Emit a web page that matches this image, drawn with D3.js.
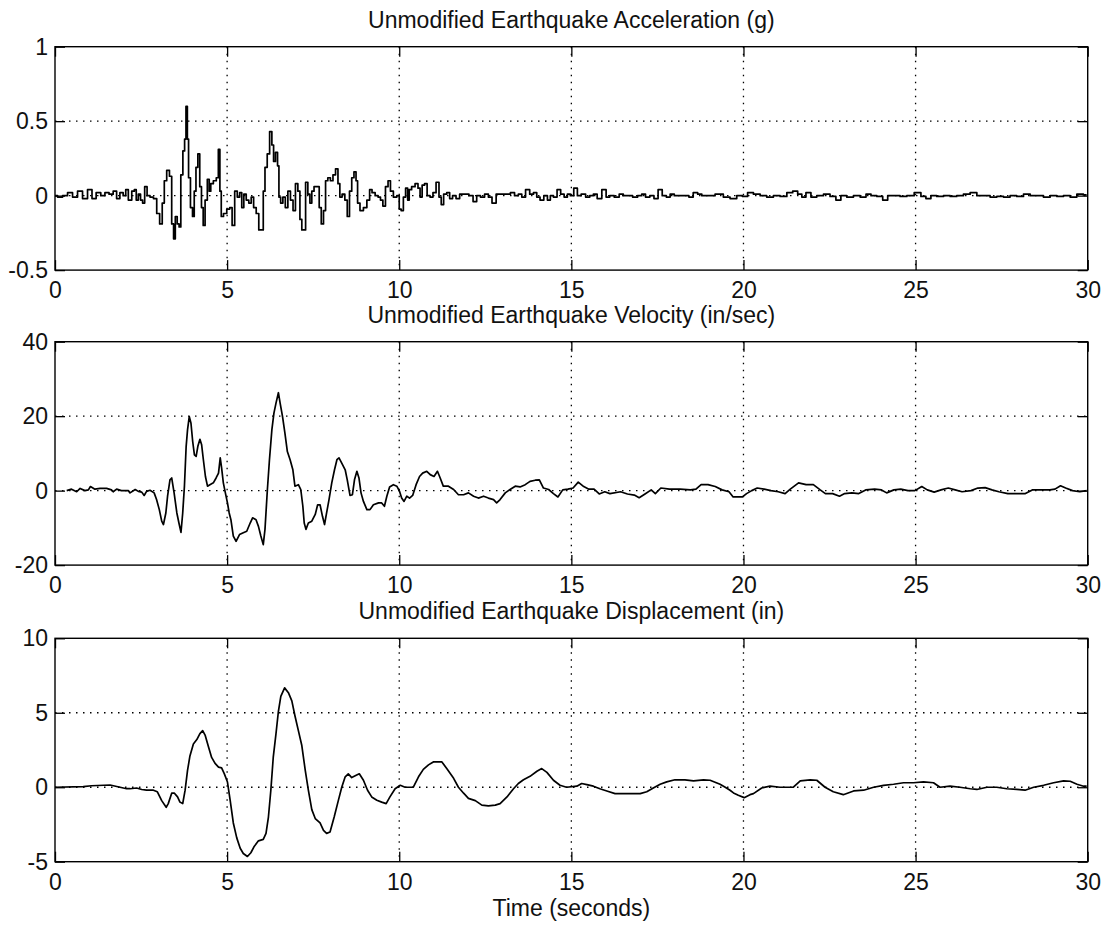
<!DOCTYPE html>
<html><head><meta charset="utf-8">
<script src="https://cdn.jsdelivr.net/npm/d3@7"></script>
<style>
body{margin:0;background:#fff;}
text{font-family:"Liberation Sans",Arial,Helvetica,sans-serif;fill:#111;}
</style></head><body>
<svg id="chart" width="1109" height="928"></svg>
<script>
// ---------- data ----------
const xTicks = [0, 5, 10, 15, 20, 25, 30];
const accTicks = [-0.5, 0, 0.5, 1];
const velTicks = [-20, 0, 20, 40];
const dispTicks = [-5, 0, 5, 10];
const panelTitles = ["Unmodified Earthquake Acceleration (g)", "Unmodified Earthquake Velocity (in/sec)", "Unmodified Earthquake Displacement (in)"];
const xLabel = "Time (seconds)";

// [time (s), acceleration (g)]
const accelerationData = [
[0,0],[0.15,-0.01],[0.29,0],[0.44,0.02],[0.58,-0.01],[0.73,0.03],[0.87,-0.02],[1.02,0.04],[1.13,-0.02],[1.26,0.02],
[1.40,0],[1.50,0.02],[1.64,0.01],[1.74,0.03],[1.84,-0.02],[1.93,0.02],[2.03,0],[2.08,0.04],[2.18,-0.03],[2.28,0.03],
[2.33,0.04],[2.39,-0.03],[2.45,0.01],[2.52,-0.03],[2.57,-0.05],[2.64,0.06],[2.71,0],[2.81,-0.01],[2.91,-0.02],[3.00,-0.12],
[3.08,-0.19],[3.15,-0.05],[3.20,0.10],[3.29,0.17],[3.36,0.13],[3.42,-0.19],[3.47,-0.29],[3.52,-0.14],[3.58,-0.19],[3.63,-0.21],
[3.68,0.14],[3.75,0.30],[3.78,0.38],[3.83,0.60],[3.86,0.38],[3.90,0.12],[3.97,-0.08],[4.02,-0.14],[4.07,0.03],[4.12,0.19],
[4.18,0.28],[4.23,0.06],[4.28,-0.08],[4.33,-0.20],[4.39,-0.03],[4.46,0.11],[4.50,0.03],[4.55,0.08],[4.65,0.10],[4.72,0.12],
[4.77,0.31],[4.81,0.03],[4.85,-0.14],[4.94,-0.12],[5.04,-0.09],[5.11,-0.08],[5.18,-0.20],[5.26,0.03],[5.33,-0.01],[5.40,0.02],
[5.45,-0.08],[5.52,0.01],[5.59,-0.03],[5.67,-0.05],[5.73,-0.01],[5.81,-0.08],[5.88,-0.12],[5.96,-0.23],[6.03,-0.23],[6.07,0.03],
[6.13,0.19],[6.20,0.28],[6.27,0.43],[6.33,0.34],[6.37,0.23],[6.44,0.29],[6.49,0.20],[6.52,-0.01],[6.59,-0.05],[6.65,-0.01],
[6.73,-0.08],[6.80,0.03],[6.88,-0.03],[6.95,-0.10],[7.02,0.08],[7.09,0.03],[7.14,-0.16],[7.20,-0.23],[7.25,-0.23],[7.31,0.09],
[7.38,0.01],[7.43,-0.05],[7.49,0.03],[7.56,0.06],[7.65,0.06],[7.70,-0.08],[7.77,-0.19],[7.83,-0.10],[7.89,0.10],[7.96,0.12],
[8.04,0.10],[8.11,0.14],[8.19,0.18],[8.25,0.08],[8.30,-0.01],[8.38,0.01],[8.46,-0.03],[8.52,-0.14],[8.59,0.03],[8.65,0.12],
[8.72,0.16],[8.77,0.10],[8.81,-0.05],[8.91,-0.10],[9.01,-0.08],[9.11,-0.03],[9.17,0.04],[9.25,0.02],[9.35,0],[9.42,-0.01],
[9.49,-0.03],[9.56,-0.07],[9.64,0.06],[9.71,0.10],[9.78,0.03],[9.88,-0.01],[9.98,0],[10.02,-0.09],[10.09,-0.10],[10.15,-0.01],
[10.22,0.05],[10.27,-0.03],[10.31,0.04],[10.41,0.06],[10.51,0.08],[10.58,0.05],[10.63,-0.01],[10.70,0.07],[10.77,0.08],[10.85,0],
[10.94,-0.01],[11.02,0.02],[11.12,0.09],[11.19,-0.01],[11.25,-0.06],[11.33,0.01],[11.43,0.02],[11.50,-0.02],[11.60,0],[11.70,-0.02],
[11.81,0.01],[11.96,0.01],[12.09,0],[12.20,-0.04],[12.30,0],[12.42,-0.01],[12.54,0.01],[12.64,-0.01],[12.75,-0.05],[12.88,0.01],
[13.03,0.01],[13.17,0.01],[13.29,0.02],[13.41,0],[13.51,0.01],[13.61,-0.01],[13.73,0.04],[13.85,0.01],[13.95,0.02],[14.04,-0.01],
[14.14,-0.03],[14.26,0],[14.35,-0.03],[14.43,0],[14.53,-0.01],[14.64,0.04],[14.74,0.01],[14.84,-0.01],[14.93,0.01],[15.01,0],
[15.13,0.05],[15.22,0],[15.35,0.01],[15.48,-0.01],[15.59,0],[15.69,0.01],[15.81,-0.02],[15.96,0.04],[16.06,-0.01],[16.17,0],
[16.32,-0.01],[16.46,0.01],[16.56,0],[16.71,0],[16.85,-0.01],[17.00,0],[17.09,0.01],[17.22,-0.01],[17.34,0],[17.46,-0.02],
[17.58,0.04],[17.70,0],[17.82,-0.01],[17.92,0.01],[18.06,0],[18.21,0],[18.35,0],[18.48,-0.01],[18.60,0.02],[18.74,0.01],
[18.84,0],[19.03,0],[19.32,0.01],[19.51,-0.01],[19.71,-0.02],[19.90,0],[20.05,-0.005],[20.19,0.02],[20.39,0.01],[20.58,0],
[20.77,-0.01],[20.97,0],[21.16,-0.005],[21.36,0.02],[21.50,0.03],[21.65,0.01],[21.74,-0.01],[21.89,0.02],[22.03,-0.01],[22.23,0],
[22.42,0.01],[22.61,-0.005],[22.76,-0.03],[22.90,0],[23.10,-0.01],[23.29,0],[23.49,-0.01],[23.63,0.01],[23.78,0],[23.97,-0.005],
[24.12,-0.03],[24.26,0],[24.45,0],[24.65,-0.005],[24.84,0],[25.08,0.02],[25.23,-0.005],[25.37,-0.02],[25.52,0],[25.71,-0.005],
[25.91,0],[26.10,-0.005],[26.29,0],[26.49,0.01],[26.68,0.02],[26.88,0],[27.07,0],[27.26,-0.01],[27.46,-0.005],[27.65,-0.01],
[27.84,0],[28.04,-0.005],[28.23,0.01],[28.43,0],[28.62,0],[28.81,-0.01],[29.01,0],[29.20,-0.005],[29.39,0],[29.59,-0.01],
[29.78,0.01],[29.97,0.005]
];

// [time (s), velocity (in/sec)]
const velocityData = [
[0.34,0],[0.48,0.4],[0.63,-0.3],[0.73,0.6],[0.87,0],[0.97,0.2],[1.03,1.1],[1.16,0.4],[1.31,0.6],[1.50,0.6],
[1.64,0.2],[1.69,-0.3],[1.79,0.4],[1.93,0],[2.13,0],[2.18,-0.6],[2.33,0.3],[2.42,-0.2],[2.52,-0.4],[2.59,-1.3],
[2.66,-0.2],[2.76,0.1],[2.88,-0.6],[2.95,-2.4],[3.03,-5.1],[3.10,-8.2],[3.15,-9.1],[3.22,-6.0],[3.27,-1.5],[3.34,2.9],
[3.39,3.4],[3.46,-0.6],[3.54,-6.0],[3.60,-8.7],[3.66,-11.2],[3.71,-6.0],[3.76,1.2],[3.81,11.9],[3.85,16.3],[3.90,19.9],
[3.95,18.1],[4.00,13.2],[4.05,9.6],[4.10,9.2],[4.15,11.9],[4.21,13.8],[4.26,12.3],[4.31,8.3],[4.37,3.8],[4.43,1.2],
[4.50,1.6],[4.60,2.1],[4.68,3.4],[4.75,4.7],[4.80,8.8],[4.84,6.1],[4.89,2.1],[4.94,-0.2],[5.01,-3.3],[5.06,-6.0],
[5.11,-7.8],[5.18,-12.2],[5.26,-13.6],[5.36,-11.8],[5.47,-11.3],[5.57,-10.9],[5.67,-8.7],[5.74,-7.3],[5.84,-7.8],[5.91,-9.6],
[5.98,-12.2],[6.05,-14.5],[6.10,-10.4],[6.17,0.3],[6.23,8.3],[6.30,16.3],[6.36,20.8],[6.42,23.5],[6.49,26.3],[6.54,23.5],
[6.61,19.9],[6.68,15.4],[6.75,10.5],[6.83,8.3],[6.91,5.6],[6.97,1.2],[7.07,1.6],[7.14,0.3],[7.20,-4.2],[7.24,-8.7],
[7.29,-10.4],[7.36,-8.7],[7.46,-8.2],[7.56,-6.4],[7.63,-3.8],[7.70,-3.8],[7.77,-6.9],[7.83,-9.1],[7.89,-6.0],[7.96,-2.4],
[8.04,2.1],[8.12,5.6],[8.19,8.3],[8.25,8.8],[8.33,7.4],[8.43,5.6],[8.49,2.9],[8.57,-1.3],[8.64,-1.1],[8.70,2.9],
[8.77,5.2],[8.83,3.4],[8.89,-0.6],[8.96,-2.9],[9.06,-5.1],[9.15,-5.1],[9.25,-3.8],[9.40,-3.3],[9.49,-3.3],[9.57,-4.2],
[9.64,-1.5],[9.72,1.0],[9.83,1.6],[9.93,1.2],[10.01,-0.2],[10.07,-2.0],[10.14,-2.9],[10.22,-1.5],[10.30,-2.0],[10.39,-1.3],
[10.49,1.6],[10.59,3.8],[10.68,4.7],[10.80,5.2],[10.90,4.3],[11.01,3.8],[11.11,5.2],[11.19,3.4],[11.28,1.2],[11.43,1.2],
[11.58,0.3],[11.72,-1.1],[11.87,-1.1],[12.01,-0.6],[12.16,-1.5],[12.30,-2.0],[12.45,-1.5],[12.59,-2.0],[12.74,-2.4],[12.83,-3.3],
[12.93,-2.4],[13.08,-0.6],[13.22,0.3],[13.37,1.2],[13.51,1.0],[13.66,1.6],[13.80,2.5],[13.95,2.8],[14.07,2.9],[14.19,0.7],
[14.34,0.3],[14.48,-0.8],[14.61,-1.7],[14.75,0.2],[14.90,0.4],[15.05,0.7],[15.20,2.3],[15.36,1.1],[15.51,0.4],[15.66,0.4],
[15.81,-0.9],[15.97,-0.3],[16.12,-0.8],[16.43,-0.3],[16.63,-0.9],[16.83,-1.2],[16.97,-1.9],[17.14,-0.9],[17.32,0.2],[17.44,-0.8],
[17.60,0.7],[17.85,0.4],[18.16,0.4],[18.46,0.2],[18.62,0.4],[18.77,1.6],[18.97,1.6],[19.18,1.1],[19.38,0.2],[19.58,-0.3],
[19.70,-1.7],[19.97,-1.7],[20.09,-0.8],[20.24,0],[20.40,0.7],[20.60,0.4],[20.80,0],[21.01,-0.3],[21.21,-0.8],[21.36,0.4],
[21.60,2.1],[21.82,1.6],[22.03,1.6],[22.23,0.2],[22.38,-0.8],[22.59,-0.8],[22.79,-1.5],[22.94,-0.8],[23.15,-0.6],[23.35,-0.8],
[23.55,0.2],[23.81,0.4],[24.01,0.2],[24.16,-0.6],[24.37,0.2],[24.57,0.4],[24.78,0],[24.98,0],[25.18,1.1],[25.34,0.2],
[25.54,-0.4],[25.74,0.2],[25.95,0.7],[26.15,0.2],[26.35,-0.3],[26.61,0],[26.81,0.7],[27.02,0.8],[27.22,0.2],[27.42,-0.3],
[27.68,-0.8],[27.93,-0.8],[28.19,-0.8],[28.39,0.2],[28.65,0.2],[28.90,0.2],[29.05,0.4],[29.21,1.3],[29.36,0.7],[29.56,0],
[29.77,-0.3],[29.97,0]
];

// [time (s), displacement (in)]
const displacementData = [
[0,0],[0.82,0.04],[1.06,0.1],[1.60,0.15],[1.89,0],[2.08,-0.1],[2.18,-0.1],[2.37,-0.05],[2.52,-0.15],[2.66,-0.2],
[2.86,-0.2],[2.97,-0.3],[3.10,-0.9],[3.23,-1.35],[3.29,-1.1],[3.39,-0.4],[3.47,-0.4],[3.56,-0.65],[3.63,-1.0],[3.71,-1.1],
[3.78,-0.2],[3.85,1.13],[3.92,2.1],[4.02,2.9],[4.12,3.2],[4.21,3.6],[4.29,3.8],[4.36,3.5],[4.46,2.7],[4.55,2.0],
[4.65,1.6],[4.75,1.35],[4.84,1.3],[4.92,0.9],[5.01,0.35],[5.09,-0.9],[5.18,-2.4],[5.28,-3.4],[5.38,-4.1],[5.47,-4.45],
[5.59,-4.65],[5.69,-4.4],[5.78,-4.0],[5.91,-3.6],[6.05,-3.5],[6.13,-3.1],[6.20,-2.0],[6.27,-0.2],[6.34,2.0],[6.42,3.6],
[6.49,5.1],[6.56,6.1],[6.67,6.67],[6.78,6.35],[6.88,5.8],[6.97,4.8],[7.07,3.8],[7.17,2.8],[7.27,1.13],[7.36,-0.2],
[7.46,-1.5],[7.56,-2.1],[7.70,-2.4],[7.80,-2.9],[7.89,-3.1],[7.99,-3.0],[8.11,-2.0],[8.23,-0.9],[8.33,0],[8.43,0.7],
[8.52,0.9],[8.62,0.65],[8.75,0.8],[8.84,0.9],[8.96,0.47],[9.08,-0.2],[9.20,-0.65],[9.35,-0.87],[9.49,-1.0],[9.62,-1.1],
[9.73,-0.65],[9.88,-0.1],[10.03,0.13],[10.17,0],[10.41,0],[10.56,0.7],[10.70,1.2],[10.85,1.5],[10.99,1.7],[11.24,1.7],
[11.38,1.25],[11.58,0.6],[11.72,0],[11.87,-0.4],[12.01,-0.75],[12.21,-0.9],[12.40,-1.2],[12.59,-1.25],[12.79,-1.2],[12.93,-1.1],
[13.13,-0.65],[13.32,-0.1],[13.46,0.25],[13.61,0.5],[13.80,0.73],[14.00,1.07],[14.14,1.25],[14.29,1.0],[14.48,0.47],[14.67,0.13],
[14.86,0],[15.16,0.07],[15.30,0.25],[15.45,0.18],[15.64,0.07],[15.83,-0.1],[16.03,-0.25],[16.27,-0.43],[16.61,-0.43],[17.00,-0.43],
[17.19,-0.3],[17.38,-0.05],[17.58,0.2],[17.77,0.36],[18.01,0.5],[18.30,0.5],[18.55,0.43],[18.84,0.5],[19.03,0.47],[19.32,0.2],
[19.47,0],[19.61,-0.2],[19.71,-0.38],[19.85,-0.54],[20.02,-0.7],[20.19,-0.5],[20.29,-0.43],[20.53,-0.05],[20.77,0.07],[21.06,0],
[21.45,0],[21.65,0.43],[21.94,0.5],[22.13,0.47],[22.37,0],[22.61,-0.3],[22.90,-0.5],[23.20,-0.25],[23.49,-0.2],[23.78,0],
[24.07,0.13],[24.36,0.2],[24.65,0.3],[24.94,0.3],[25.23,0.36],[25.52,0.3],[25.71,0],[26.00,0.07],[26.29,0],[26.59,-0.1],
[26.78,-0.15],[27.07,0],[27.36,0],[27.65,-0.1],[27.94,-0.15],[28.18,-0.2],[28.43,0],[28.72,0.13],[29.01,0.3],[29.30,0.43],
[29.49,0.4],[29.69,0.2],[29.88,0.07],[29.97,0.07]
];

// ---------- drawing ----------
const svg = d3.select("#chart");
const left = 55, right = 1087.7, plotH = 223.4;
const panelTops = [46.7, 341.7, 638.3];
const panels = [
  {data: accelerationData, ticks: accTicks, title: panelTitles[0], curve: d3.curveStep},
  {data: velocityData, ticks: velTicks, title: panelTitles[1], curve: d3.curveLinear},
  {data: displacementData, ticks: dispTicks, title: panelTitles[2], curve: d3.curveLinear}
];
const fmt = d => String(d);
const tickLen = 10;

panels.forEach((p, i) => {
  const top = panelTops[i];
  const x = d3.scaleLinear().domain([0, 30]).range([left, right]);
  const y = d3.scaleLinear().domain([p.ticks[0], p.ticks[p.ticks.length - 1]]).range([top + plotH, top]);
  const g = svg.append("g");

  // grid
  const grid = g.append("g").attr("stroke", "#000").attr("stroke-width", 1.3).attr("stroke-dasharray", "1.5,5.5").attr("fill", "none");
  grid.selectAll("line.vx").data(xTicks.slice(1, -1)).join("line")
    .attr("x1", d => x(d)).attr("x2", d => x(d)).attr("y1", top).attr("y2", top + plotH);
  grid.selectAll("line.hy").data(p.ticks.slice(1, -1)).join("line")
    .attr("x1", left).attr("x2", right).attr("y1", d => y(d)).attr("y2", d => y(d));

  // series
  g.append("path").datum(p.data)
    .attr("fill", "none").attr("stroke", "#000").attr("stroke-width", 1.7).attr("stroke-linejoin", "round")
    .attr("d", d3.line().curve(p.curve).x(d => x(d[0])).y(d => y(d[1])));

  // axes (inward ticks)
  const bottom = g.append("g").attr("transform", `translate(0,${top + plotH})`)
    .call(d3.axisBottom(x).tickValues(xTicks).tickSizeInner(-tickLen).tickSizeOuter(0).tickPadding(12).tickFormat(fmt));
  const topAx = g.append("g").attr("transform", `translate(0,${top})`)
    .call(d3.axisTop(x).tickValues(xTicks).tickSizeInner(-tickLen).tickSizeOuter(0).tickFormat(""));
  const leftAx = g.append("g").attr("transform", `translate(${left},0)`)
    .call(d3.axisLeft(y).tickValues(p.ticks).tickSizeInner(-tickLen).tickSizeOuter(0).tickPadding(7).tickFormat(fmt));
  const rightAx = g.append("g").attr("transform", `translate(${right},0)`)
    .call(d3.axisRight(y).tickValues(p.ticks).tickSizeInner(-tickLen).tickSizeOuter(0).tickFormat(""));
  [bottom, topAx, leftAx, rightAx].forEach(a => {
    a.select(".domain").remove();
    a.selectAll(".tick line").attr("stroke", "#000").attr("stroke-width", 1.3);
    a.selectAll("text").attr("font-size", 23).attr("font-family", '"Liberation Sans", Arial, sans-serif').attr("fill", "#111");
  });

  // box
  g.append("rect").attr("x", left).attr("y", top).attr("width", right - left).attr("height", plotH)
    .attr("fill", "none").attr("stroke", "#000").attr("stroke-width", 1.4);

  // title
  g.append("text").attr("x", (left + right) / 2).attr("y", top - 19)
    .attr("text-anchor", "middle").attr("font-size", 23).text(p.title);

  if (i === panels.length - 1) {
    g.append("text").attr("x", (left + right) / 2).attr("y", top + plotH + 54)
      .attr("text-anchor", "middle").attr("font-size", 23).text(xLabel);
  }
});
</script>
</body></html>
